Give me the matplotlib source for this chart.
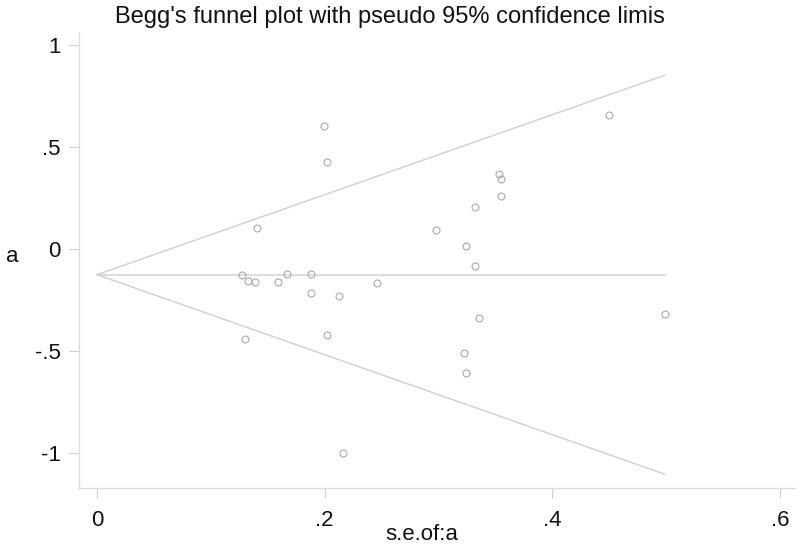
import matplotlib
matplotlib.use("Agg")
import matplotlib.pyplot as plt
import numpy as np

plt.rcParams['font.family'] = ['Liberation Sans', 'DejaVu Sans']

# Study standard errors and effect sizes
se = [0.199, 0.2024, 0.1406, 0.1274, 0.1324, 0.1386, 0.1588, 0.1672, 0.1877,
      0.1877, 0.2127, 0.2458, 0.1298, 0.2024, 0.2162, 0.450, 0.3527, 0.3547,
      0.3547, 0.3322, 0.2979, 0.324, 0.3319, 0.3351, 0.4985, 0.3225, 0.3245]
effect = [0.603, 0.428, 0.104, -0.127, -0.154, -0.162, -0.160, -0.123, -0.123,
          -0.217, -0.230, -0.167, -0.438, -0.420, -1.00, 0.655, 0.368, 0.345,
          0.260, 0.209, 0.095, 0.018, -0.083, -0.337, -0.317, -0.511, -0.606]
pooled = -0.125
z = 1.96

xticks = [0, 0.2, 0.4, 0.6]
xticklabels = ['0', '.2', '.4', '.6']
yticks = [-1, -0.5, 0, 0.5, 1]
yticklabels = ['-1', '-.5', '0', '.5', '1']

W, H = 800, 547
fig = plt.figure(figsize=(W / 100, H / 100), dpi=100)
ax = fig.add_axes([79 / W, 1 - 488 / H, (795 - 79) / W, (488 - 32) / H])

se_line = np.array([0, max(se)])
line_col = '#d2d2d2'
ax.plot(se_line, [pooled, pooled], color=line_col, lw=1.1)
ax.plot(se_line, pooled + z * se_line, color=line_col, lw=1.1)
ax.plot(se_line, pooled - z * se_line, color=line_col, lw=1.1)

ax.plot(se, effect, linestyle='none', marker='o', markersize=5,
        markerfacecolor='none', markeredgecolor='#a9a9a9', markeredgewidth=0.8)

ax.set_xlim(-0.0158, 0.613)
ax.set_ylim(-1.17, 1.064)

ax.set_xticks(xticks)
ax.set_xticklabels(xticklabels)
ax.set_yticks(yticks)
ax.set_yticklabels(yticklabels)

for s in ['top', 'right']:
    ax.spines[s].set_visible(False)
for s in ['left', 'bottom']:
    ax.spines[s].set_color('#dcdcdc')
    ax.spines[s].set_linewidth(1.0)

ax.tick_params(axis='both', colors='#cfcfcf', length=7, width=0.8,
               labelcolor='#111111', labelsize=16)
ax.tick_params(axis='y', pad=6)
ax.tick_params(axis='x', pad=9)

fig.text(115 / W, 1 - 17 / H, "Begg's funnel plot with pseudo 95% confidence limis",
         ha='left', va='center', fontsize=17, color='#111111')
fig.text(422 / W, 1 - 535 / H, "s.e.of:a", ha='center', va='center',
         fontsize=16, color='#111111')
fig.text(12 / W, 1 - 257 / H, "a", ha='center', va='center',
         fontsize=16, color='#111111')

fig.savefig('out.png', dpi=100)
